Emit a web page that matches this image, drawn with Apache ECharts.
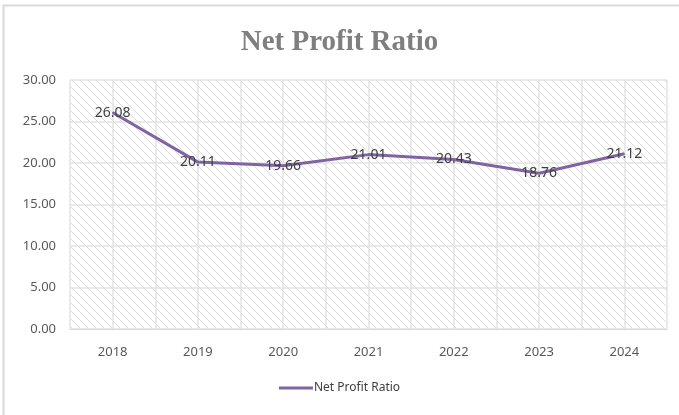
<!DOCTYPE html>
<html>
<head>
<meta charset="utf-8">
<script src="https://cdn.jsdelivr.net/npm/echarts@6/dist/echarts.min.js"></script>
<style>
  html, body { margin: 0; padding: 0; background: #fff; }
  #chart { width: 679px; height: 415px; }
</style>
</head>
<body>
<div id="chart"></div>
<script>
const years = ['2018', '2019', '2020', '2021', '2022', '2023', '2024']
const netProfitRatio = [26.08, 20.11, 19.66, 21.01, 20.43, 18.76, 21.12]
const seriesName = 'Net Profit Ratio'

// diagonal hatch used as plot background
function hatchPattern() {
  const c = document.createElement('canvas')
  c.width = 8
  c.height = 8
  const ctx = c.getContext('2d')
  ctx.fillStyle = '#ffffff'
  ctx.fillRect(0, 0, 8, 8)
  ctx.strokeStyle = '#dedede'
  ctx.lineWidth = 1
  ctx.beginPath()
  ctx.moveTo(-1, -1)
  ctx.lineTo(9, 9)
  ctx.moveTo(-5, 3)
  ctx.lineTo(5, 13)
  ctx.moveTo(3, -5)
  ctx.lineTo(13, 5)
  ctx.stroke()
  return c
}

const chart = echarts.init(document.getElementById('chart'))
chart.setOption({
  animation: false,
  textStyle: { fontFamily: 'Noto Sans' },
  graphic: [{
    type: 'rect',
    shape: { x: 3.5, y: 5.5, width: 700, height: 450 },
    style: { fill: 'none', stroke: '#d9d9d9', lineWidth: 2 },
    silent: true,
    z: -10
  }],
  title: {
    text: 'Net Profit Ratio',
    left: 'center',
    top: 23,
    textStyle: {
      fontFamily: 'Liberation Serif',
      fontWeight: 'bold',
      fontSize: 29,
      color: '#7f7f7f'
    }
  },
  grid: {
    left: 70,
    right: 12,
    top: 80,
    bottom: 86,
    show: true,
    borderWidth: 0,
    backgroundColor: { image: hatchPattern(), repeat: 'repeat' }
  },
  legend: {
    data: [seriesName],
    bottom: 16,
    itemWidth: 34,
    itemHeight: 3,
    itemGap: 4,
    icon: 'rect',
    textStyle: { fontSize: 12, color: '#404040', padding: [0, 0, 0, -4] }
  },
  xAxis: [{
    type: 'category',
    data: years,
    axisLine: { lineStyle: { color: '#d9d9d9' } },
    axisTick: { show: false },
    axisLabel: { color: '#595959', fontSize: 13, margin: 17 },
    splitLine: { show: false }
  }, {
    type: 'value',
    min: 0,
    max: years.length * 2,
    interval: 1,
    show: true,
    axisLine: { show: false },
    axisTick: { show: false },
    axisLabel: { show: false },
    splitLine: { show: true, lineStyle: { color: '#e3e3e3', width: 1.5 } }
  }],
  yAxis: {
    type: 'value',
    min: 0,
    max: 30,
    interval: 5,
    axisLine: { show: false },
    axisTick: { show: false },
    axisLabel: {
      color: '#595959',
      fontSize: 13,
      margin: 14,
      formatter: v => v.toFixed(2)
    },
    splitLine: { lineStyle: { color: '#e3e3e3', width: 1.5 } }
  },
  series: [{
    name: seriesName,
    type: 'line',
    data: netProfitRatio,
    symbol: 'circle',
    symbolSize: 1,
    showSymbol: true,
    lineStyle: { color: '#8064a2', width: 3 },
    itemStyle: { color: '#8064a2' },
    label: {
      show: true,
      position: 'inside',
      color: '#404040',
      fontSize: 14,
      formatter: p => p.value.toFixed(2)
    }
  }]
})
</script>
</body>
</html>
